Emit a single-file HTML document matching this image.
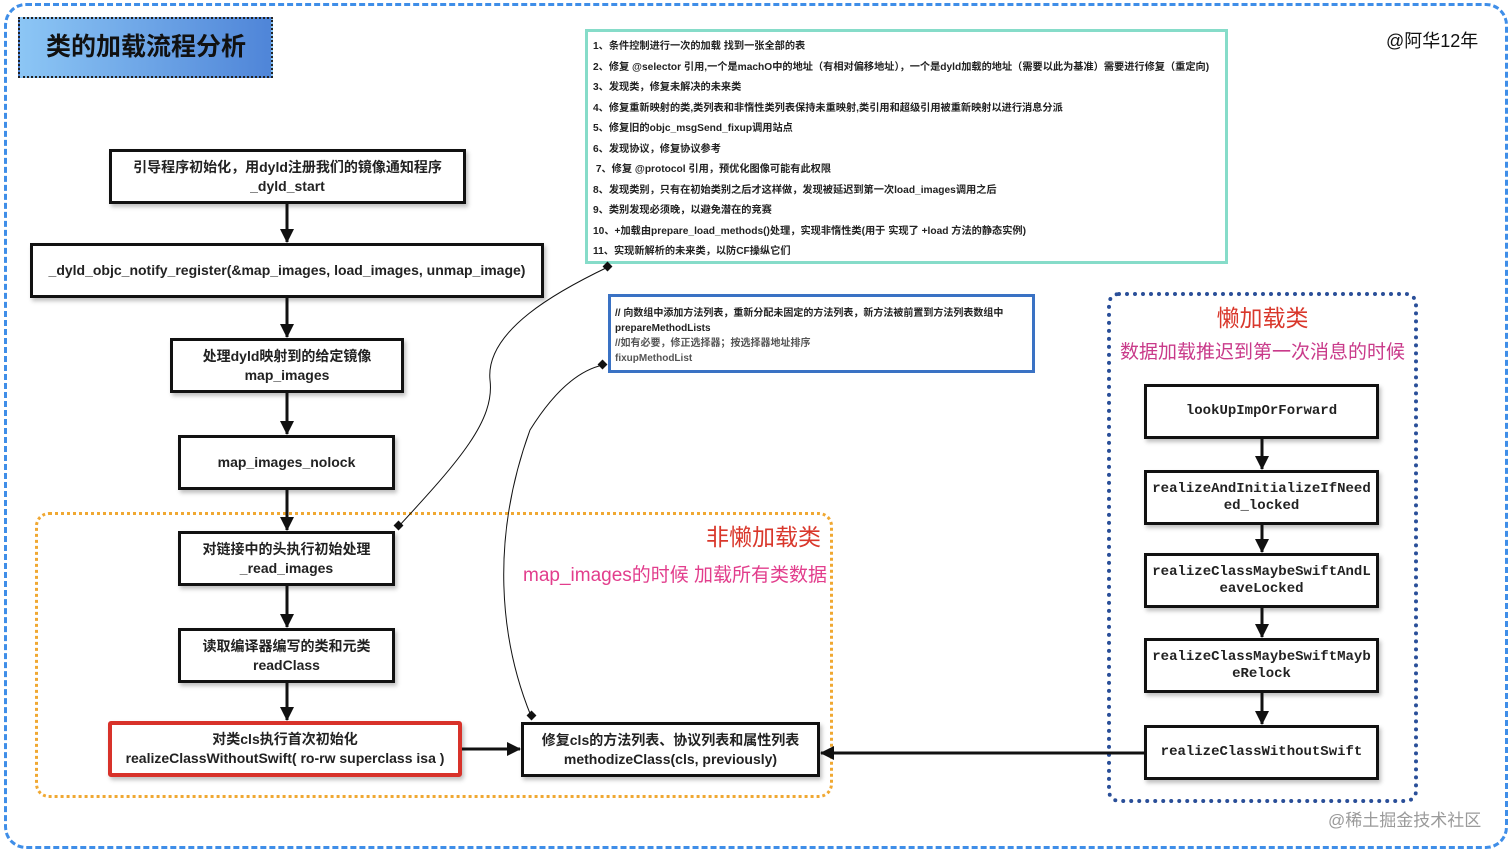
<!DOCTYPE html>
<html><head><meta charset="utf-8"><style>
body{margin:0;width:1512px;height:851px;background:#fff;position:relative;overflow:hidden;font-family:"Liberation Sans","Noto Sans CJK SC",sans-serif}
.a{position:absolute;box-sizing:border-box}
.b{position:absolute;box-sizing:border-box;border:3px solid #111;background:#fff;display:flex;flex-direction:column;align-items:center;justify-content:center;text-align:center;font-size:14px;font-weight:bold;color:#222;line-height:19px;box-shadow:2px 3px 4px rgba(0,0,0,.25)}
.m{font-family:"Liberation Mono","DejaVu Sans Mono",monospace;font-size:14px;line-height:17px}
.t div{font-size:10.2px;font-weight:bold;color:#222;height:20.5px;line-height:20.5px;white-space:nowrap}
</style></head><body>
<div class="a" style="left:4px;top:3px;width:1504px;height:846px;border:3px dashed #3f8ee8;border-radius:22px"></div>
<div class="a" style="left:18px;top:17px;width:255px;height:61px;border:2px dotted #222;background:linear-gradient(90deg,#8cc6f5,#4f85d8);font-size:25px;font-weight:bold;color:#111;padding-left:26px;line-height:57px">类的加载流程分析</div>
<div class="a" style="left:1386px;top:27px;font-size:18px;color:#111">@阿华12年</div>

<div class="a" style="left:35px;top:512px;width:798px;height:286px;border:3px dotted #f0a832;border-radius:14px"></div>
<div class="a" style="left:706px;top:518px;font-size:23px;color:#d9372b">非懒加载类</div>
<div class="a" style="left:523px;top:560px;font-size:19px;color:#e23d8c">map_images的时候 加载所有类数据</div>

<div class="a" style="left:1107px;top:292px;width:311px;height:511px;border:4px dotted #2a4f99;border-radius:12px"></div>
<div class="a" style="left:1107px;top:299px;width:311px;text-align:center;font-size:23px;color:#d9372b">懒加载类</div>
<div class="a" style="left:1107px;top:337px;width:311px;text-align:center;font-size:19px;color:#c93a8a">数据加载推迟到第一次消息的时候</div>

<div class="a t" style="left:585px;top:29px;width:643px;height:235px;border:3px solid #86dcc9;padding:5px 0 0 5px;background:#fff">
<div>1、条件控制进行一次的加载 找到一张全部的表</div>
<div>2、修复 @selector 引用,一个是machO中的地址（有相对偏移地址），一个是dyld加载的地址（需要以此为基准）需要进行修复（重定向)</div>
<div>3、发现类，修复未解决的未来类</div>
<div>4、修复重新映射的类,类列表和非惰性类列表保持未重映射,类引用和超级引用被重新映射以进行消息分派</div>
<div>5、修复旧的objc_msgSend_fixup调用站点</div>
<div>6、发现协议，修复协议参考</div>
<div>&nbsp;7、修复 @protocol 引用，预优化图像可能有此权限</div>
<div>8、发现类别，只有在初始类别之后才这样做，发现被延迟到第一次load_images调用之后</div>
<div>9、类别发现必须晚，以避免潜在的竞赛</div>
<div>10、+加载由prepare_load_methods()处理，实现非惰性类(用于 实现了 +load 方法的静态实例)</div>
<div>11、实现新解析的未来类，以防CF操纵它们</div>
</div>
<div class="a" style="left:608px;top:294px;width:427px;height:79px;border:3px solid #3a72c4;padding:9px 0 0 4px;font-size:10px;font-weight:bold;line-height:15px;color:#222">
// 向数组中添加方法列表，重新分配未固定的方法列表，新方法被前置到方法列表数组中<br>prepareMethodLists<br><span style="color:#555">//如有必要，修正选择器；按选择器地址排序<br>fixupMethodList</span></div>

<div class="b" style="left:109px;top:149px;width:357px;height:55px"><div>引导程序初始化，用dyld注册我们的镜像通知程序</div><div>_dyld_start</div></div>
<div class="b" style="left:30px;top:243px;width:514px;height:55px">_dyld_objc_notify_register(&amp;map_images, load_images, unmap_image)</div>
<div class="b" style="left:170px;top:338px;width:234px;height:55px"><div>处理dyld映射到的给定镜像</div><div>map_images</div></div>
<div class="b" style="left:178px;top:435px;width:217px;height:55px">map_images_nolock</div>
<div class="b" style="left:178px;top:531px;width:217px;height:55px"><div>对链接中的头执行初始处理</div><div>_read_images</div></div>
<div class="b" style="left:178px;top:628px;width:217px;height:55px"><div>读取编译器编写的类和元类</div><div>readClass</div></div>
<div class="b" style="left:108px;top:721px;width:354px;height:56px;border:4px solid #d8322a;border-radius:3px"><div>对类cls执行首次初始化</div><div>realizeClassWithoutSwift( ro-rw superclass isa )</div></div>
<div class="b" style="left:521px;top:722px;width:299px;height:55px"><div>修复cls的方法列表、协议列表和属性列表</div><div>methodizeClass(cls, previously)</div></div>

<div class="b m" style="left:1144px;top:384px;width:235px;height:55px">lookUpImpOrForward</div>
<div class="b m" style="left:1144px;top:470px;width:235px;height:55px"><div>realizeAndInitializeIfNeed</div><div>ed_locked</div></div>
<div class="b m" style="left:1144px;top:553px;width:235px;height:55px"><div>realizeClassMaybeSwiftAndL</div><div>eaveLocked</div></div>
<div class="b m" style="left:1144px;top:638px;width:235px;height:55px"><div>realizeClassMaybeSwiftMayb</div><div>eRelock</div></div>
<div class="b m" style="left:1144px;top:725px;width:235px;height:55px">realizeClassWithoutSwift</div>

<svg class="a" style="left:0;top:0" width="1512" height="851">
<defs><marker id="ar" markerWidth="14" markerHeight="14" refX="13" refY="7" orient="auto" markerUnits="userSpaceOnUse"><path d="M0,0L14,7L0,14z" fill="#111"/></marker></defs>
<g stroke="#111" stroke-width="3" marker-end="url(#ar)">
<line x1="287" y1="204" x2="287" y2="242"/>
<line x1="287" y1="298" x2="287" y2="337"/>
<line x1="287" y1="393" x2="287" y2="434"/>
<line x1="287" y1="490" x2="287" y2="530"/>
<line x1="287" y1="586" x2="287" y2="627"/>
<line x1="287" y1="683" x2="287" y2="720"/>
<line x1="462" y1="749" x2="520" y2="749"/>
<line x1="1144" y1="753" x2="821" y2="753"/>
<line x1="1262" y1="439" x2="1262" y2="469"/>
<line x1="1262" y1="525" x2="1262" y2="552"/>
<line x1="1262" y1="608" x2="1262" y2="637"/>
<line x1="1262" y1="693" x2="1262" y2="724"/>
</g>
<g fill="none" stroke="#111" stroke-width="1">
<path d="M399,526 C460,460 495,420 490,380 C485,330 560,290 608,267"/>
<path d="M531,716 C500,640 490,540 530,430 C555,390 580,370 603,365"/>
</g>
<g fill="#111"><rect x="395" y="522" width="7" height="7" transform="rotate(45 398.5 525.5)"/><rect x="604" y="263" width="7" height="7" transform="rotate(45 607.5 266.5)"/><rect x="528" y="712" width="7" height="7" transform="rotate(45 531.5 715.5)"/><rect x="599" y="361" width="7" height="7" transform="rotate(45 602.5 364.5)"/></g>
</svg>
<div class="a" style="left:1328px;top:806px;font-size:17px;color:#9a9a9a">@稀土掘金技术社区</div>
</body></html>
